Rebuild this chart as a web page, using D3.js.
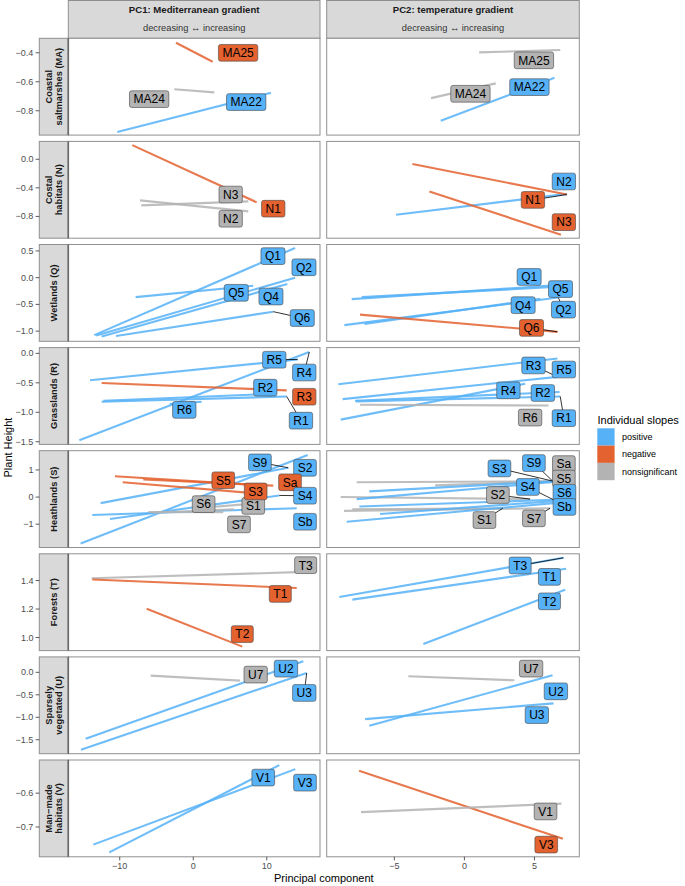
<!DOCTYPE html>
<html><head><meta charset="utf-8">
<script src="https://cdn.jsdelivr.net/npm/d3@7"></script>
<style>body{margin:0;background:#fff} text{font-family:"Liberation Sans",Arial,Helvetica,sans-serif}</style>
</head><body><svg id="c" width="685" height="886"></svg>
<script>
// ---------- data ----------
const habitats = [["Coastal","saltmarshes (MA)"],["Costal","habitats (N)"],["Wetlands (Q)"],["Grasslands (R)"],["Heathlands (S)"],["Forests (T)"],["Sparsely","vegetated (U)"],["Man\u2212made","habitats (V)"]];
const componentTitles = ["PC1: Mediterranean gradient","PC2: temperature gradient"];
const componentSubtitles = ["decreasing \u2194 increasing","decreasing \u2194 increasing"];
const xDomains = [[-17.0,17.24],[-9.83,8.2]];
const xTicks = [[-10,0,10],[-5,0,5]];
const yDomains = [[-0.968,-0.30],[-1.105,0.25],[-1.19,0.62],[-1.545,0.098],[-1.86,1.71],[0.908,1.588],[-1.81,0.343],[-0.788,-0.502]];
const yTicks = [[-0.4,-0.6,-0.8],[0,-0.4,-0.8],[0.5,0,-0.5,-1],[0,-0.5,-1,-1.5],[1,0,-1],[1.4,1.2,1.0],[0,-0.5,-1,-1.5],[-0.6,-0.7]];
const slopeTypes = ["pos","neg","ns"];
const slopeNames = ["positive","negative","nonsignificant"];
const slopeColors = ["#56B1F7","#E4622F","#B3B3B3"];

// [row, id, type, x1, y1, x2, y2]
const slopesPC1 = [
 [0,"MA25","neg",-2.35,-0.331,2.64,-0.462],
 [0,"MA24","ns",-2.58,-0.652,2.86,-0.673],
 [0,"MA22","pos",-10.34,-0.946,10.57,-0.676],
 [1,"N1","neg",-8.3,0.198,8.63,-0.603],
 [1,"N3","ns",-7.07,-0.645,7.48,-0.589],
 [1,"N2","ns",-7.25,-0.575,7.48,-0.730],
 [2,"Q1","pos",-13.47,-1.075,13.84,0.553],
 [2,"Q2","pos",-13.2,-1.08,13.84,0.0],
 [2,"Q4","pos",-12.46,-1.1,12.79,-0.119],
 [2,"Q5","pos",-7.84,-0.364,8.16,-0.151],
 [2,"Q6","pos",-10.52,-1.09,10.88,-0.636],
 [3,"R5","pos",-14.05,-0.457,14.2,-0.103],
 [3,"R4","pos",-15.5,-1.473,15.78,0.023],
 [3,"R3","neg",-12.46,-0.502,12.71,-0.628],
 [3,"R2","pos",-12.24,-0.805,10.88,-0.685],
 [3,"R1","pos",-12.46,-0.822,12.71,-0.731],
 [3,"R6","pos",-3.2,-0.86,1.14,-0.82],
 [4,"S2","pos",-15.32,-1.716,15.56,1.552],
 [4,"S9","pos",-12.6,-0.224,12.93,1.08],
 [4,"S4","pos",-11.33,-0.81,11.7,0.06],
 [4,"Sb","pos",-13.74,-0.66,14.07,-0.41],
 [4,"S5","neg",-10.65,0.769,8.16,0.448],
 [4,"S3","neg",-9.6,0.545,9.07,0.123],
 [4,"Sa","neg",-6.8,0.646,10.88,0.422],
 [4,"S7","ns",-6.12,-0.55,4.08,-0.56],
 [4,"S6","ns",-5.5,-0.58,5.5,-0.45],
 [4,"S1","ns",0.46,-0.41,7.27,-0.26],
 [5,"T3","ns",-13.82,1.416,14.07,1.459],
 [5,"T1","neg",-13.74,1.407,14.07,1.348],
 [5,"T2","neg",-6.34,1.202,6.67,0.936],
 [6,"U7","ns",-5.8,-0.073,6.35,-0.185],
 [6,"U2","pos",-14.64,-1.477,14.97,0.245],
 [6,"U3","pos",-15.28,-1.72,15.43,-0.015],
 [7,"V1","pos",-11.43,-0.775,11.7,-0.517],
 [7,"V3","pos",-13.6,-0.752,13.88,-0.529]
];
const slopesPC2 = [
 [0,"MA25","ns",1.05,-0.397,6.84,-0.381],
 [0,"MA24","ns",-2.38,-0.713,2.24,-0.611],
 [0,"MA22","pos",-1.69,-0.869,6.43,-0.572],
 [1,"N2","pos",-4.88,-0.777,7.31,-0.485],
 [1,"N1","neg",-3.71,-0.066,7.31,-0.494],
 [1,"N3","neg",-2.5,-0.452,6.89,-1.055],
 [2,"Q1","pos",-8.04,-0.402,6.36,-0.145],
 [2,"Q5","pos",-7.33,-0.364,6.36,-0.176],
 [2,"Q2","pos",-8.57,-0.887,6.7,-0.37],
 [2,"Q4","pos",-7.14,-0.868,5.41,-0.396],
 [2,"Q6","neg",-7.45,-0.692,6.64,-1.013],
 [3,"R5","pos",-9.0,-0.525,6.64,-0.086],
 [3,"R3","pos",-8.69,-0.776,6.64,-0.399],
 [3,"R4","pos",-8.83,-1.125,4.34,-0.514],
 [3,"R2","pos",-7.81,-0.805,6.79,-0.656],
 [3,"R1","pos",-7.74,-0.816,6.84,-0.731],
 [3,"R6","ns",-7.45,-0.873,6.0,-0.885],
 [4,"Sa","ns",-7.69,0.545,6.36,0.582],
 [4,"S5","ns",-2.09,0.433,6.36,0.582],
 [4,"S2","ns",-8.83,0.0,4.69,-0.075],
 [4,"S1","ns",-8.0,-0.45,2.74,-0.41],
 [4,"S7","ns",-8.59,-0.511,6.12,-0.41],
 [4,"S3","pos",-6.79,0.209,6.36,0.582],
 [4,"S9","pos",-7.69,-0.075,6.36,0.56],
 [4,"S4","pos",-7.5,-0.35,6.36,-0.1],
 [4,"S6","pos",-6.02,-0.623,6.36,-0.15],
 [4,"Sb","pos",-8.4,-0.91,6.36,-0.224],
 [5,"T3","pos",-8.93,1.285,7.07,1.56],
 [5,"T1","pos",-8.0,1.266,7.26,1.483],
 [5,"T2","pos",-2.93,0.955,7.19,1.336],
 [6,"U7","ns",-4.0,-0.089,3.57,-0.178],
 [6,"U2","pos",-6.79,-1.187,6.29,-0.067],
 [6,"U3","pos",-7.09,-1.04,6.36,-0.69],
 [7,"V3","neg",-7.52,-0.534,7.03,-0.735],
 [7,"V1","ns",-7.38,-0.656,6.93,-0.631]
];
// [row, id, labelX, labelY, leader]
const labelsPC1 = [
 [0,"MA25",6.1,-0.40,0],[0,"MA24",-6.0,-0.72,0],[0,"MA22",7.2,-0.74,0],
 [1,"N3",5.09,-0.494,0],[1,"N2",5.09,-0.833,0],[1,"N1",10.88,-0.692,0],
 [2,"Q1",10.84,0.402,0],[2,"Q2",15.06,0.194,0],[2,"Q5",5.85,-0.283,0],[2,"Q4",10.57,-0.353,0],[2,"Q6",14.83,-0.755,1],
 [3,"R5",11.02,-0.108,1],[3,"R4",15.1,-0.325,1],[3,"R2",9.8,-0.582,0],[3,"R3",15.1,-0.736,0],[3,"R1",14.65,-1.142,1],[3,"R6",-1.22,-0.959,0],
 [4,"S1",8.16,-0.325,0],[4,"S9",9.07,1.28,1],[4,"S2",15.2,1.08,0],[4,"Sa",13.16,0.545,0],[4,"S5",4.08,0.62,0],[4,"S3",8.49,0.209,0],[4,"S4",15.2,0.049,1],[4,"S6",1.41,-0.261,0],[4,"S7",6.22,-1.007,0],[4,"Sb",15.2,-0.91,0],
 [5,"T3",15.29,1.508,0],[5,"T1",11.84,1.306,0],[5,"T2",6.67,1.024,0],
 [6,"U7",8.49,-0.051,0],[6,"U2",12.61,0.082,0],[6,"U3",15.1,-0.459,1],
 [7,"V1",9.52,-0.554,0],[7,"V3",15.2,-0.569,0]
];
const labelsPC2 = [
 [0,"MA25",4.96,-0.452,0],[0,"MA24",0.43,-0.683,0],[0,"MA22",4.64,-0.637,0],
 [1,"N2",7.1,-0.311,0],[1,"N1",4.89,-0.569,1],[1,"N3",7.1,-0.88,0],
 [2,"Q1",4.62,0.013,0],[2,"Q4",4.19,-0.515,0],[2,"Q2",7.07,-0.598,1],[2,"Q5",6.86,-0.213,0],[2,"Q6",4.79,-0.94,1],
 [3,"R3",4.93,-0.205,1],[3,"R5",7.1,-0.274,0],[3,"R4",3.14,-0.628,0],[3,"R2",5.6,-0.673,0],[3,"R6",4.69,-1.09,0],[3,"R1",7.1,-1.1,1],
 [4,"S3",2.5,1.056,1],[4,"S9",4.96,1.254,1],[4,"Sa",7.1,1.216,1],[4,"S5",7.1,0.683,0],[4,"S4",4.53,0.373,1],[4,"S6",7.14,0.16,0],[4,"S2",2.39,0.075,1],[4,"Sb",7.14,-0.362,0],[4,"S1",1.43,-0.847,1],[4,"S7",4.96,-0.784,1],
 [5,"T3",3.98,1.506,1],[5,"T1",6.07,1.426,0],[5,"T2",6.07,1.254,0],
 [6,"U7",4.76,0.082,0],[6,"U2",6.53,-0.423,0],[6,"U3",5.17,-0.951,0],
 [7,"V1",5.79,-0.654,0],[7,"V3",5.84,-0.752,0]
];
const slopesByPC = [slopesPC1, slopesPC2];
const labelsByPC = [labelsPC1, labelsPC2];

// ---------- layout ----------
const svg = d3.select("#c");
const cols = [[68.3,320],[326.7,579.3]];
const top0 = 38.3, rowStep = 103.1, panelH = 96.8;
const stripX0 = 39.3, stripX1 = 68.3;
const colorScale = d3.scaleOrdinal().domain(slopeTypes).range(slopeColors);
const borderCol = "#8f8f8f";

// top strips
componentTitles.forEach((t,j)=>{
  const [x0,x1] = cols[j];
  svg.append("rect").attr("x",x0).attr("y",0.5).attr("width",x1-x0).attr("height",top0-0.5)
    .attr("fill","#d9d9d9").attr("stroke",borderCol).attr("stroke-width",1);
  svg.append("text").attr("x",(x0+x1)/2).attr("y",13.3).attr("text-anchor","middle")
    .attr("font-weight","bold").attr("font-size",9.6).attr("fill","#1a1a1a").text(t);
  svg.append("text").attr("x",(x0+x1)/2).attr("y",30.5).attr("text-anchor","middle")
    .attr("font-size",9.3).attr("fill","#333").text(componentSubtitles[j]);
});

const xScales = cols.map((c,j)=>d3.scaleLinear().domain(xDomains[j]).range(c));

habitats.forEach((h,i)=>{
  const top = top0 + i*rowStep;
  const y = d3.scaleLinear().domain(yDomains[i]).range([top+panelH, top]);
  // row strip
  svg.append("rect").attr("x",stripX0).attr("y",top).attr("width",stripX1-stripX0).attr("height",panelH)
    .attr("fill","#d9d9d9").attr("stroke",borderCol);
  const g = svg.append("g").attr("transform",`translate(${(stripX0+stripX1)/2},${top+panelH/2}) rotate(-90)`);
  h.forEach((line,k)=>{
    g.append("text").attr("x",0).attr("y",(k-(h.length-1)/2)*10.6+3.4).attr("text-anchor","middle")
      .attr("font-weight","bold").attr("font-size",9.3).attr("fill","#1a1a1a").text(line);
  });
  // y axis
  const allInt = yTicks[i].every(v=>Number.isInteger(v));
  const fmt = d3.format(allInt ? "d" : ".1f");
  yTicks[i].forEach(v=>{
    svg.append("line").attr("x1",35.6).attr("x2",stripX0).attr("y1",y(v)).attr("y2",y(v))
      .attr("stroke","#333").attr("stroke-width",0.8);
    svg.append("text").attr("x",33.4).attr("y",y(v)).attr("dy","0.34em").attr("text-anchor","end")
      .attr("font-size",9).attr("fill","#4d4d4d").text(fmt(v));
  });

  cols.forEach((c,j)=>{
    const x = xScales[j];
    const [x0,x1] = c;
    const clipId = `clip-${i}-${j}`;
    svg.append("clipPath").attr("id",clipId).append("rect")
      .attr("x",x0).attr("y",top).attr("width",x1-x0).attr("height",panelH);
    svg.append("rect").attr("x",x0).attr("y",top).attr("width",x1-x0).attr("height",panelH)
      .attr("fill","#fff");
    const pg = svg.append("g").attr("clip-path",`url(#${clipId})`);
    const slopes = slopesByPC[j].filter(s=>s[0]===i);
    pg.selectAll("line.s").data(slopes).enter().append("line")
      .attr("x1",d=>x(d[3])).attr("y1",d=>y(d[4])).attr("x2",d=>x(d[5])).attr("y2",d=>y(d[6]))
      .attr("stroke",d=>colorScale(d[2])).attr("stroke-width",2.1).attr("stroke-opacity",0.85)
      .attr("stroke-linecap","butt");
    const labs = labelsByPC[j].filter(l=>l[0]===i);
    const findSlope = id => slopes.find(s=>s[1]===id);
    // leaders
    labs.filter(l=>l[4]).forEach(l=>{
      const s = findSlope(l[1]);
      svg.append("line").attr("x1",x(l[2])).attr("y1",y(l[3])).attr("x2",x(s[5])).attr("y2",y(s[6]))
        .attr("stroke","#000").attr("stroke-width",0.8);
    });
    // labels
    labs.forEach(l=>{
      const s = findSlope(l[1]);
      const lg = svg.append("g").attr("transform",`translate(${x(l[2])},${y(l[3])})`);
      const t = lg.append("text").attr("x",0).attr("y",4.3).attr("text-anchor","middle")
        .attr("font-size",12).attr("fill","#000").text(l[1]);
      const w = t.node().getComputedTextLength() + 8;
      lg.insert("rect","text").attr("x",-w/2).attr("y",-8.35).attr("width",w).attr("height",16.7)
        .attr("rx",2.2).attr("ry",2.2).attr("fill",colorScale(s[2])).attr("stroke","#444").attr("stroke-width",0.6);
    });
    // border
    svg.append("rect").attr("x",x0).attr("y",top).attr("width",x1-x0).attr("height",panelH)
      .attr("fill","none").attr("stroke",borderCol).attr("stroke-width",1);
    if (i===habitats.length-1) {
      xTicks[j].forEach(v=>{
        svg.append("line").attr("x1",x(v)).attr("x2",x(v)).attr("y1",top+panelH).attr("y2",top+panelH+3.6)
          .attr("stroke","#333").attr("stroke-width",0.8);
        svg.append("text").attr("x",x(v)).attr("y",top+panelH+12.6).attr("text-anchor","middle")
          .attr("font-size",9).attr("fill","#4d4d4d").text(d3.format("d")(v));
      });
    }
  });
  // darker edge between row strip and panel
  svg.append("line").attr("x1",stripX1).attr("x2",stripX1).attr("y1",top).attr("y2",top+panelH)
    .attr("stroke","#6a6a6a").attr("stroke-width",1.6);
});

// axis titles
svg.append("text").attr("x",(cols[0][0]+cols[1][1])/2).attr("y",882).attr("text-anchor","middle")
  .attr("font-size",11).attr("fill","#000").text("Principal component");
svg.append("text").attr("transform",`translate(12,${top0+(7*rowStep+panelH)/2}) rotate(-90)`)
  .attr("text-anchor","middle").attr("font-size",11).attr("fill","#000").text("Plant Height");

// legend
const lg = svg.append("g");
lg.append("text").attr("x",597.5).attr("y",423.5).attr("font-size",11).attr("fill","#000").text("Individual slopes");
slopeTypes.forEach((t,k)=>{
  lg.append("rect").attr("x",597.3).attr("y",428.3+k*17.3).attr("width",17.3).attr("height",17.3)
    .attr("fill",colorScale(t));
  lg.append("text").attr("x",622).attr("y",428.3+k*17.3+8.65).attr("dy","0.34em")
    .attr("font-size",9).attr("fill","#000").text(slopeNames[k]);
});
</script></body></html>
